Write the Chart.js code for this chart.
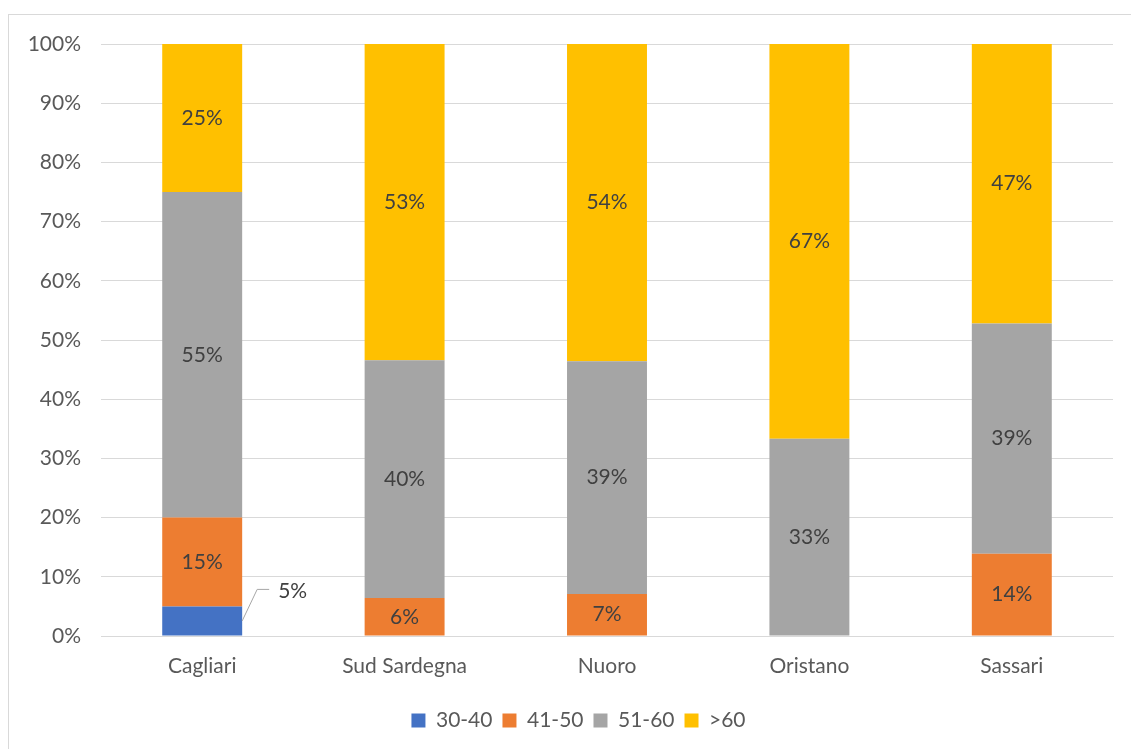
<!DOCTYPE html>
<html lang="it">
<head>
  <meta charset="UTF-8">
  <title>Fasce di età per provincia</title>
  <script src="https://cdn.jsdelivr.net/npm/chart.js"></script>
  <style>
    html, body { margin: 0; padding: 0; background: #fff; overflow: hidden; }
    #frame {
      position: absolute;
      left: 8px; top: 14px;
      width: 1140px; height: 760px;
      border: 1px solid #d9d9d9;
      box-sizing: border-box;
    }
    #wrap { position: absolute; left: 0; top: 0; width: 1131px; height: 749px; }
  </style>
</head>
<body>
  <div id="frame"></div>
  <div id="wrap"><canvas id="chart" width="1131" height="749"></canvas></div>

  <script>
    // categorie e serie (percentuali)
    const province = ['Cagliari', 'Sud Sardegna', 'Nuoro', 'Oristano', 'Sassari'];
    const fascia30_40 = [5, 0, 0, 0, 0];
    const fascia41_50 = [15, 6.4, 7.1, 0, 13.9];
    const fascia51_60 = [55, 40.2, 39.3, 33.3, 38.9];
    const fasciaOltre60 = [25, 53.4, 53.6, 66.7, 47.2];
    const yTicks = [0, 10, 20, 30, 40, 50, 60, 70, 80, 90, 100];

    const FONT = 'Lato, "Liberation Sans", sans-serif';
    const FSIZE = 21;

    // etichette dei valori dentro le barre (5% di Cagliari fuori con linea guida)
    const valueLabels = {
      id: 'valueLabels',
      afterDatasetsDraw(chart) {
        const ctx = chart.ctx;
        ctx.save();
        ctx.font = FSIZE + 'px ' + FONT;
        ctx.fillStyle = '#404040';
        ctx.textBaseline = 'middle';
        chart.data.datasets.forEach((ds, i) => {
          const meta = chart.getDatasetMeta(i);
          meta.data.forEach((bar, j) => {
            const v = ds.data[j];
            if (!v) return;
            const txt = Math.round(v) + '%';
            const top = Math.min(bar.y, bar.base), bottom = Math.max(bar.y, bar.base);
            if (bottom - top < 35) {
              // fuori dalla barra
              const x0 = bar.x + bar.width / 2, y0 = (top + bottom) / 2;
              ctx.strokeStyle = '#a6a6a6';
              ctx.lineWidth = 1;
              ctx.beginPath();
              ctx.moveTo(x0, y0);
              ctx.lineTo(x0 + 15, top - 17);
              ctx.lineTo(x0 + 27, top - 17);
              ctx.stroke();
              ctx.textAlign = 'left';
              ctx.fillText(txt, x0 + 36, top - 15);
            } else {
              ctx.textAlign = 'center';
              ctx.fillText(txt, bar.x, (top + bottom) / 2);
            }
          });
        });
        ctx.restore();
      }
    };

    // la legenda è centrata sull'area del grafico, non sulla tela
    const legendShift = {
      id: 'legendShift',
      afterLayout(chart) {
        chart.legend.left += 22;
        chart.legend.right += 22;
      }
    };

    new Chart(document.getElementById('chart'), {
      type: 'bar',
      data: {
        labels: province,
        datasets: [
          { label: '30-40', data: fascia30_40, backgroundColor: '#4472C4' },
          { label: '41-50', data: fascia41_50, backgroundColor: '#ED7D31' },
          { label: '51-60', data: fascia51_60, backgroundColor: '#A5A5A5' },
          { label: '>60', data: fasciaOltre60, backgroundColor: '#FFC000' }
        ]
      },
      options: {
        responsive: false,
        animation: false,
        layout: { padding: { left: 0, right: 18, top: 44, bottom: 8 } },
        datasets: { bar: { categoryPercentage: 1, barPercentage: 0.395, borderWidth: 0 } },
        plugins: {
          tooltip: { enabled: false },
          legend: {
            position: 'bottom',
            labels: {
              boxWidth: 14, boxHeight: 14, padding: 10,
              color: '#595959',
              font: { family: FONT, size: FSIZE }
            }
          }
        },
        scales: {
          x: {
            stacked: true,
            grid: { display: false },
            border: { color: '#d9d9d9' },
            ticks: { color: '#595959', font: { family: FONT, size: FSIZE }, padding: 10 },
            afterFit: s => { s.height = 64; }
          },
          y: {
            stacked: true,
            min: 0, max: 100,
            afterBuildTicks: s => { s.ticks = yTicks.map(v => ({ value: v })); },
            grid: { color: '#d9d9d9', drawTicks: false },
            border: { display: false },
            ticks: {
              color: '#595959', font: { family: FONT, size: FSIZE }, padding: 20,
              callback: v => v + '%'
            },
            afterFit: s => { s.width = 101; }
          }
        }
      },
      plugins: [valueLabels, legendShift]
    });
  </script>
</body>
</html>
